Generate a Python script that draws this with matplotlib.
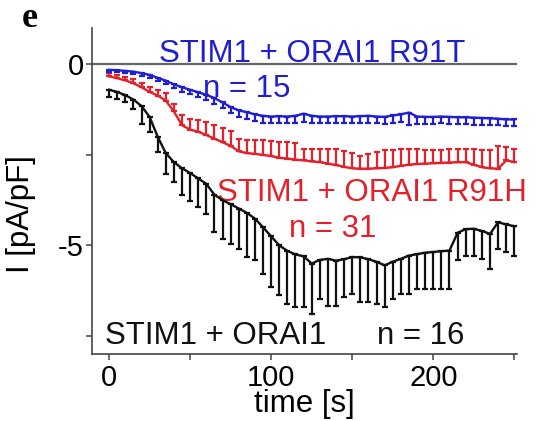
import numpy as np
import matplotlib
matplotlib.use("Agg")
import matplotlib.pyplot as plt

plt.rcParams['font.family'] = ['Liberation Sans', 'DejaVu Sans']

time_s = list(range(0, 251, 5))

wt_mean = [-0.70, -0.76, -0.85, -0.97, -1.15, -1.45, -2.00, -2.45, -2.70, -2.87,
           -3.00, -3.15, -3.30, -3.60, -3.75, -3.86, -3.98, -4.10, -4.26, -4.50,
           -4.75, -5.00, -5.15, -5.25, -5.30, -5.50, -5.40, -5.37, -5.42, -5.38,
           -5.32, -5.33, -5.38, -5.45, -5.55, -5.45, -5.37, -5.28, -5.24, -5.20,
           -5.18, -5.16, -5.14, -4.65, -4.55, -4.54, -4.60, -4.68, -4.36, -4.42,
           -4.47]
wt_err = [0.20, 0.19, 0.19, 0.25, 0.49, 0.42, 0.42, 0.57, 0.55, 0.75,
          0.76, 0.79, 0.82, 1.03, 1.06, 1.09, 1.11, 1.22, 1.15, 1.28,
          1.40, 1.38, 1.46, 1.45, 1.40, 1.39, 1.07, 1.29, 1.24, 1.05,
          1.01, 1.23, 1.19, 1.16, 1.14, 1.02, 0.96, 1.07, 0.96, 1.00,
          1.02, 1.04, 1.06, 0.76, 0.73, 0.74, 0.77, 0.96, 0.73, 0.76,
          0.83]

r91h_mean = [-0.33, -0.38, -0.44, -0.52, -0.63, -0.76, -0.86, -1.00, -1.30, -1.68,
             -1.80, -1.86, -1.95, -2.05, -2.15, -2.25, -2.40, -2.45, -2.47, -2.50,
             -2.53, -2.58, -2.60, -2.63, -2.65, -2.68, -2.70, -2.74, -2.78, -2.83,
             -2.87, -2.88, -2.88, -2.87, -2.86, -2.84, -2.80, -2.77, -2.75, -2.74,
             -2.73, -2.72, -2.71, -2.70, -2.70, -2.77, -2.84, -2.87, -2.88, -2.65,
             -2.70]
r91h_err = [0.08, 0.08, 0.10, 0.12, 0.13, 0.14, 0.15, 0.20, 0.22, 0.28,
            0.30, 0.33, 0.35, 0.38, 0.38, 0.40, 0.35, 0.37, 0.38, 0.40,
            0.42, 0.45, 0.47, 0.45, 0.30, 0.33, 0.35, 0.40, 0.43, 0.45,
            0.42, 0.35, 0.40, 0.45, 0.50, 0.48, 0.45, 0.42, 0.40, 0.38,
            0.37, 0.36, 0.36, 0.35, 0.35, 0.42, 0.48, 0.50, 0.64, 0.38,
            0.37]

r91t_mean = [-0.15, -0.16, -0.18, -0.20, -0.24, -0.29, -0.37, -0.45, -0.55, -0.63,
             -0.70, -0.77, -0.84, -0.93, -1.05, -1.18, -1.27, -1.32, -1.38, -1.42,
             -1.44, -1.43, -1.44, -1.42, -1.36, -1.42, -1.44, -1.44, -1.43, -1.43,
             -1.44, -1.43, -1.42, -1.44, -1.45, -1.41, -1.38, -1.33, -1.44, -1.45,
             -1.45, -1.44, -1.45, -1.46, -1.46, -1.47, -1.48, -1.49, -1.50, -1.52,
             -1.52]
r91t_err = [0.06, 0.06, 0.07, 0.07, 0.08, 0.08, 0.09, 0.10, 0.11, 0.12,
            0.13, 0.13, 0.14, 0.15, 0.16, 0.17, 0.18, 0.18, 0.19, 0.19,
            0.19, 0.19, 0.19, 0.19, 0.22, 0.19, 0.19, 0.19, 0.19, 0.19,
            0.19, 0.19, 0.19, 0.19, 0.19, 0.20, 0.22, 0.34, 0.20, 0.19,
            0.19, 0.19, 0.19, 0.19, 0.19, 0.19, 0.19, 0.19, 0.18, 0.17,
            0.17]

BLACK = '#111111'
RED = '#e4202a'
BLUE = '#1f1fd0'

fig = plt.figure(figsize=(5.48, 4.21), dpi=100)
ax = fig.add_axes([0.168, 0.159, 0.775, 0.774])

zeros = [0.0] * len(time_s)
ax.axhline(0, color='#666666', lw=1.6, zorder=1)

kw = dict(lw=1.7, elinewidth=1.6, capsize=2.4, capthick=1.6)
ax.errorbar(time_s, wt_mean, yerr=[wt_err, zeros], color=BLACK, zorder=3, **kw)
ax.errorbar(time_s, r91h_mean, yerr=[zeros, r91h_err], color=RED, zorder=4, **kw)
ax.errorbar(time_s, r91t_mean, yerr=[r91t_err, zeros], color=BLUE, zorder=5, **kw)

ax.set_xlim(-10.5, 251.5)
ax.set_ylim(-8, 1)
ax.spines['top'].set_visible(False)
ax.spines['right'].set_visible(False)
for s in ('left', 'bottom'):
    ax.spines[s].set_color('#444444')
    ax.spines[s].set_linewidth(1.2)

ax.set_xticks([0, 100, 200])
ax.set_xticks([50, 150, 250], minor=True)
ax.set_yticks([0, -5])
ax.set_yticklabels(['0', '-5'])
ax.set_yticks([-2.5, -7.5], minor=True)
ax.tick_params(axis='both', which='both', direction='out', length=4,
               width=1.1, color='#444444', labelsize=21)
ax.tick_params(axis='x', pad=3)
ax.tick_params(axis='y', pad=2)

ax.set_xlabel('time [s]', fontsize=22.5, labelpad=-2)
ax.set_ylabel('I [pA/pF]', fontsize=22.5)
ax.yaxis.set_label_coords(-0.133, 0.43)

fs = 22.5
ax.text(31, 0.06, 'STIM1 + ORAI1 R91T', color=BLUE, fontsize=fs, ha='left', va='baseline')
ax.text(58, -0.91, 'n = 15', color=BLUE, fontsize=fs, ha='left', va='baseline')
ax.text(66.5, -3.76, 'STIM1 + ORAI1 R91H', color=RED, fontsize=fs, ha='left', va='baseline',
        clip_on=False)
ax.text(111, -4.78, 'n = 31', color=RED, fontsize=fs, ha='left', va='baseline')
ax.text(-2.5, -7.71, 'STIM1 + ORAI1', color=BLACK, fontsize=fs, ha='left', va='baseline')
ax.text(165.5, -7.71, 'n = 16', color=BLACK, fontsize=fs, ha='left', va='baseline')

fig.text(0.04, 0.955, 'e', fontsize=26, fontweight='bold', family='Liberation Serif',
         ha='left', va='center')

fig.savefig('out.png', dpi=100)
